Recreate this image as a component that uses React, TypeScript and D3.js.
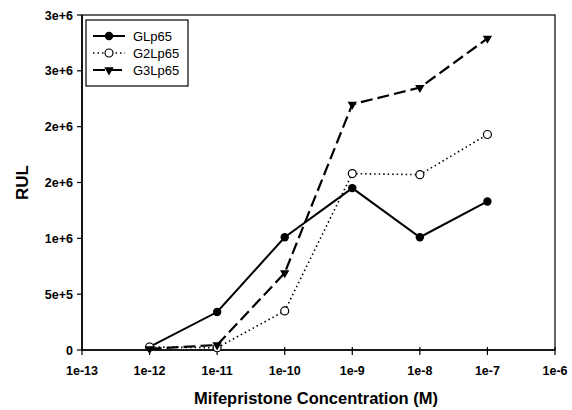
import React from "react";
import * as d3 from "d3";

const concentrations = [1e-12, 1e-11, 1e-10, 1e-9, 1e-8, 1e-7];
const gLp65 = [27000, 340000, 1010000, 1450000, 1010000, 1330000];
const g2Lp65 = [27000, 20000, 350000, 1580000, 1570000, 1930000];
const g3Lp65 = [10000, 45000, 690000, 2200000, 2350000, 2790000];
const seriesNames = ["GLp65", "G2Lp65", "G3Lp65"];
const xTickValues = [1e-13, 1e-12, 1e-11, 1e-10, 1e-9, 1e-8, 1e-7, 1e-6];
const xTickLabels = ["1e-13", "1e-12", "1e-11", "1e-10", "1e-9", "1e-8", "1e-7", "1e-6"];
const yTickValues = [0, 500000, 1000000, 1500000, 2000000, 2500000, 3000000];
const yTickLabels = ["0", "5e+5", "1e+6", "2e+6", "2e+6", "3e+6", "3e+6"];

const W = 572, H = 410;
const left = 82, right = 555, top = 15, bottom = 350;

export default function App() {
  const x = d3.scaleLog().domain([1e-13, 1e-6]).range([left, right]);
  const y = d3.scaleLinear().domain([0, 3000000]).range([bottom, top]);
  const line = d3.line<[number, number]>().x(d => x(d[0])).y(d => y(d[1]));
  const font = "Arial, 'Liberation Sans', sans-serif";
  const datasets = [gLp65, g2Lp65, g3Lp65];
  const styles = [
    { dash: undefined as string | undefined, width: 2 },
    { dash: "1.5 3", width: 1.6 },
    { dash: "12 5", width: 2.2 },
  ];
  const tri = d3.symbol().type(d3.symbolTriangle).size(38)() as string;
  const marker = (i: number, cx: number, cy: number, key: string) => {
    if (i === 0) return <circle key={key} cx={cx} cy={cy} r={4.2} fill="#000" />;
    if (i === 1) return <circle key={key} cx={cx} cy={cy} r={4} fill="#fff" stroke="#000" strokeWidth={1.2} />;
    return <path key={key} d={tri} transform={`translate(${cx},${cy}) rotate(180)`} fill="#000" />;
  };
  return (
    <svg width={W} height={H} style={{ position: "absolute", left: 0, top: 0, background: "#fff" }}>
      <rect x={0} y={0} width={W} height={H} fill="#fff" />
      {/* frame */}
      <rect x={left} y={top} width={right - left} height={bottom - top} fill="none" stroke="#000" strokeWidth={1.2} />
      <line x1={left} x2={left} y1={top} y2={bottom} stroke="#000" strokeWidth={1.6} />
      <line x1={left} x2={right} y1={bottom} y2={bottom} stroke="#000" strokeWidth={1.6} />
      {/* y ticks */}
      {yTickValues.map((v, i) => (
        <g key={"y" + i}>
          <line x1={left - 5} x2={left} y1={y(v)} y2={y(v)} stroke="#000" strokeWidth={1.2} />
          <text x={left - 9} y={y(v) + 4.5} textAnchor="end" fontFamily={font} fontSize={12.5} fontWeight="bold">{yTickLabels[i]}</text>
        </g>
      ))}
      {/* x ticks */}
      {xTickValues.map((v, i) => (
        <g key={"x" + i}>
          <line x1={x(v)} x2={x(v)} y1={bottom - 3} y2={bottom + 5} stroke="#000" strokeWidth={1.2} />
          <text x={x(v)} y={bottom + 25} textAnchor="middle" fontFamily={font} fontSize={12.5} fontWeight="bold">{xTickLabels[i]}</text>
        </g>
      ))}
      {/* titles */}
      <text x={316} y={404} textAnchor="middle" fontFamily={font} fontSize={16.5} fontWeight="bold">Mifepristone Concentration (M)</text>
      <text transform={`translate(28,${(top + bottom) / 2}) rotate(-90)`} textAnchor="middle" fontFamily={font} fontSize={17} fontWeight="bold">RUL</text>
      {/* series */}
      {datasets.map((vals, i) => {
        const pts = concentrations.map((c, j) => [c, vals[j]] as [number, number]);
        return (
          <g key={"s" + i}>
            <path d={line(pts) as string} fill="none" stroke="#000" strokeWidth={styles[i].width} strokeDasharray={styles[i].dash} />
            {pts.map((p, j) => marker(i, x(p[0]), y(p[1]), `m${i}-${j}`))}
          </g>
        );
      })}
      {/* legend */}
      <rect x={86} y={20} width={102} height={66} fill="#fff" stroke="#000" strokeWidth={1.2} />
      {seriesNames.map((n, i) => {
        const ly = 36 + i * 17;
        return (
          <g key={"l" + i}>
            <line x1={93} x2={125} y1={ly} y2={ly} stroke="#000" strokeWidth={styles[i].width} strokeDasharray={styles[i].dash} />
            {marker(i, 109, ly, "lm" + i)}
            <text x={133} y={ly + 4.5} fontFamily={font} fontSize={13}>{n}</text>
          </g>
        );
      })}
    </svg>
  );
}
